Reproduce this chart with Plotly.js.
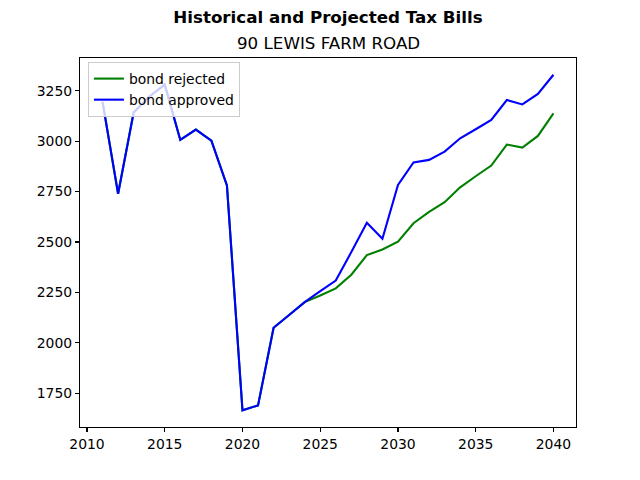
<!DOCTYPE html>
<html>
<head>
<meta charset="utf-8">
<script src="https://cdn.plot.ly/plotly-3.0.1.min.js"></script>
<style>
  html, body { margin: 0; padding: 0; background: #fff; }
  #chart { width: 640px; height: 480px; }
</style>
</head>
<body>
<div id="chart"></div>
<script>
// Tax bill history (2011-2024) and projections (2025-2040)
const years = [2011, 2012, 2013, 2014, 2015, 2016, 2017, 2018, 2019, 2020,
               2021, 2022, 2023, 2024, 2025, 2026, 2027, 2028, 2029, 2030,
               2031, 2032, 2033, 2034, 2035, 2036, 2037, 2038, 2039, 2040];

const bondRejected = [3195, 2739, 3142, 3220, 3280, 3006, 3057, 3002, 2780, 1666,
                      1690, 2075, 2138, 2202, 2235, 2270, 2338, 2435, 2463, 2502,
                      2593, 2649, 2697, 2771, 2826, 2879, 2983, 2968, 3026, 3138];

const bondApproved = [3195, 2739, 3142, 3220, 3280, 3006, 3057, 3002, 2780, 1666,
                      1690, 2075, 2138, 2202, 2256, 2309, 2450, 2595, 2516, 2783,
                      2894, 2907, 2948, 3014, 3059, 3105, 3204, 3182, 3234, 3329];

const seriesNames = ['bond rejected', 'bond approved'];
const mainTitle = 'Historical and Projected Tax Bills';
const subTitle = '90 LEWIS FARM ROAD';
const xTicks = [2010, 2015, 2020, 2025, 2030, 2035, 2040];
const yTicks = [1750, 2000, 2250, 2500, 2750, 3000, 3250];

// 5% padding around the data, both axes
function padded(vals, frac) {
  const lo = Math.min(...vals), hi = Math.max(...vals);
  const d = (hi - lo) * frac;
  return [lo - d, hi + d];
}
const xRange = padded(years, 0.05);
const yRange = padded(bondRejected.concat(bondApproved), 0.05);

const FONT = 'DejaVu Sans, sans-serif';

const traces = [
  { x: years, y: bondRejected, name: seriesNames[0], type: 'scatter', mode: 'lines',
    line: { color: '#008000', width: 2.1 } },
  { x: years, y: bondApproved, name: seriesNames[1], type: 'scatter', mode: 'lines',
    line: { color: '#0000ff', width: 2.1 } }
];

const axisCommon = {
  showline: true, mirror: true, linecolor: '#000', linewidth: 1.1,
  ticks: 'outside', ticklen: 4, tickwidth: 1.1, tickcolor: '#000',
  showgrid: false, zeroline: false,
  tickfont: { family: FONT, size: 13.9, color: '#000' }
};

const layout = {
  width: 640, height: 480,
  paper_bgcolor: '#fff', plot_bgcolor: '#fff',
  margin: { l: 80, r: 64, t: 58, b: 53, pad: 0 },
  font: { family: FONT, color: '#000' },
  title: {
    text: mainTitle,
    font: { family: FONT, size: 16.7, weight: 'bold', color: '#000' },
    xref: 'paper', x: 0.5, xanchor: 'center',
    yref: 'container', y: 1 - 17 / 480, yanchor: 'middle'
  },
  annotations: [{
    text: subTitle, showarrow: false,
    xref: 'paper', x: 0.5, xanchor: 'center',
    yref: 'paper', y: 1, yanchor: 'bottom', yshift: 3,
    font: { family: FONT, size: 16.7, color: '#000' }
  }],
  xaxis: Object.assign({}, axisCommon, {
    range: xRange, tickmode: 'array', tickvals: xTicks, ticktext: xTicks.map(String)
  }),
  yaxis: Object.assign({}, axisCommon, {
    range: yRange, tickmode: 'array', tickvals: yTicks, ticktext: yTicks.map(String)
  }),
  showlegend: true,
  legend: {
    x: 0.016, y: 0.989, xanchor: 'left', yanchor: 'top',
    bgcolor: 'rgba(255,255,255,0.8)', bordercolor: '#cccccc', borderwidth: 1,
    font: { family: FONT, size: 13.9, color: '#000' },
    itemwidth: 30, tracegroupgap: 0
  }
};

Plotly.newPlot('chart', traces, layout, { displayModeBar: false, staticPlot: true });
</script>
</body>
</html>
